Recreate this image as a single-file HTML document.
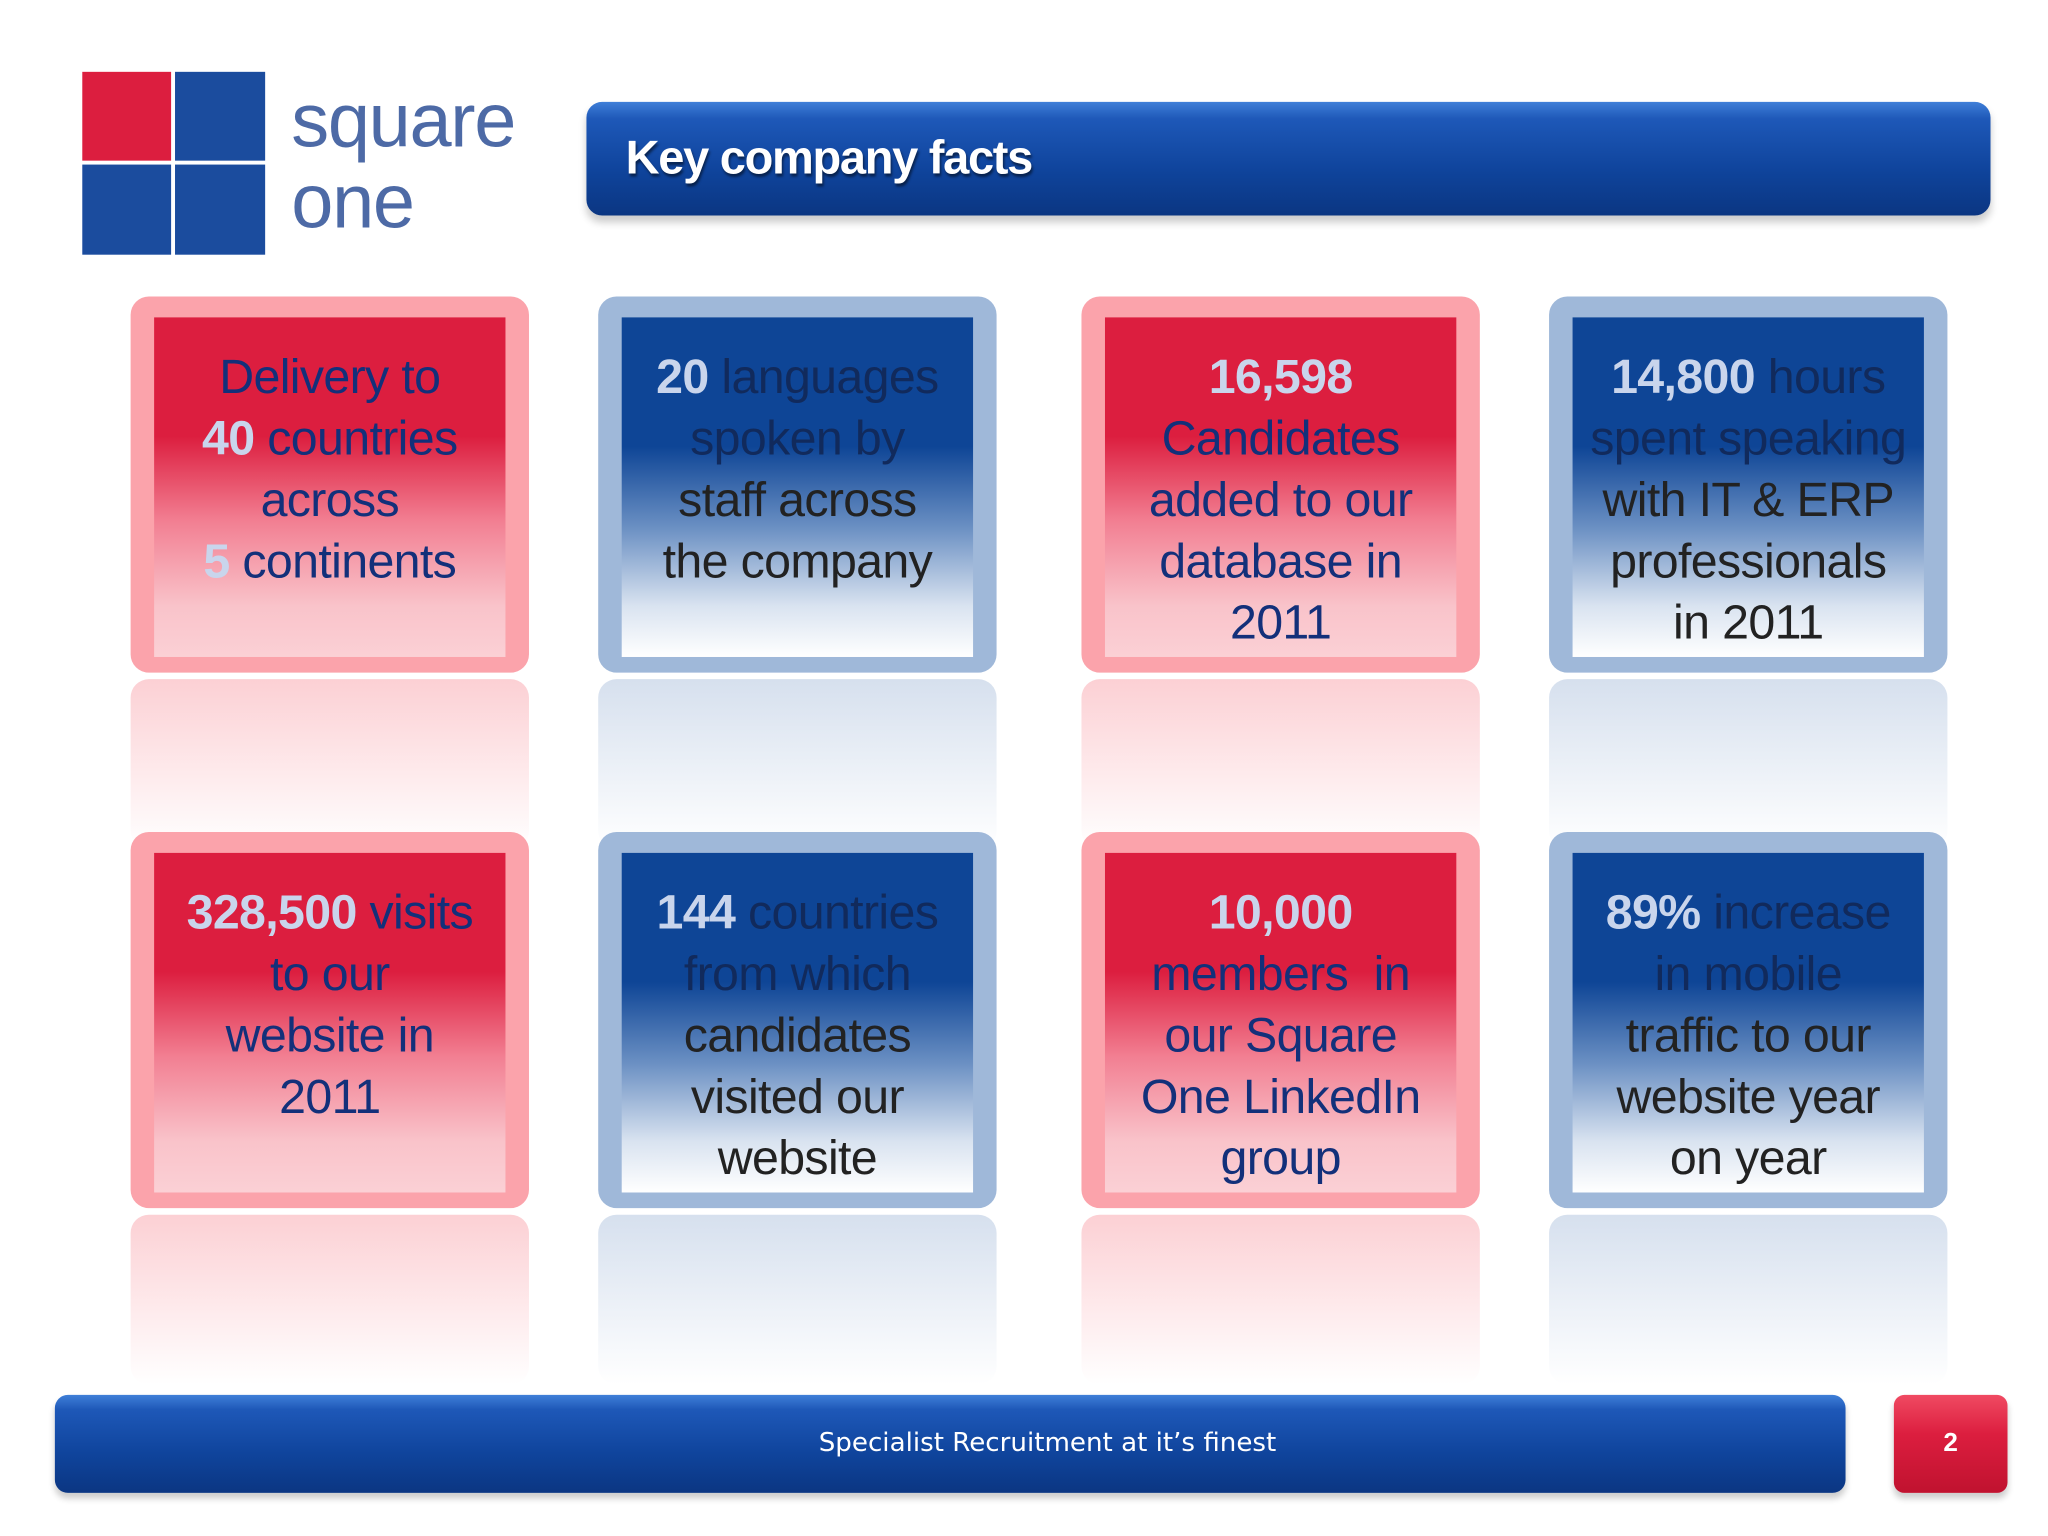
<!DOCTYPE html>
<html><head><meta charset="utf-8"><style>
html,body{margin:0;padding:0;background:#fff;}
#wrap{width:2048px;height:1536px;overflow:hidden;position:relative;}
#s{width:1568px;height:1176px;position:absolute;left:0;top:0;transform:scale(1.30612);transform-origin:0 0;font-family:"Liberation Sans",Arial,sans-serif;}
.a{position:absolute;}
.card{position:absolute;width:305px;height:288px;border-radius:14px;}
.red{background:#fba3ab;}
.blue{background:#9fb8d9;}
.inner{position:absolute;left:18px;top:16px;right:18px;bottom:12px;}
.red .inner{background:linear-gradient(#dc1e3f 0%,#dc1e3f 35%,#f27f92 60%,#f9c3ca 85%,#fbd0d5 100%);}
.blue .inner{background:linear-gradient(#0e4596 0%,#0e4596 38%,#6b90c3 62%,#d9e3f0 85%,#fff 100%);}
.txt{position:absolute;left:-4px;right:-4px;top:38px;text-align:center;font-size:37px;line-height:47px;letter-spacing:-0.5px;}
.red .txt{color:#13307a;}
.blue .txt{color:#222;}
.hl{color:#c9d5ec;font-weight:bold;}
.dk{color:#112a5c;}
.refl{position:absolute;width:305px;height:130px;border-radius:14px;}
.refl.r{background:linear-gradient(#fcd0d4,#fff 100%);}
.refl.b{background:linear-gradient(#d6e0ee,#fff 100%);}
</style></head><body>
<div id="wrap"><div id="s">
<div class="a" style="left:63px;top:55px;width:140px;height:140px;">
 <div class="a" style="left:0;top:0;width:68px;height:68px;background:#dc1e3f"></div>
 <div class="a" style="left:71px;top:0;width:69px;height:68px;background:#1b4c9e"></div>
 <div class="a" style="left:0;top:71px;width:68px;height:69px;background:#1b4c9e"></div>
 <div class="a" style="left:71px;top:71px;width:69px;height:69px;background:#1b4c9e"></div>
</div>
<div class="a" style="left:223px;top:62px;font-size:58px;line-height:62px;color:#4d6aa6;letter-spacing:-1px;">square<br>one</div>
<div class="a" style="left:449px;top:78px;width:1075px;height:87px;border-radius:12px;background:linear-gradient(#3f7fd8 0%,#1e58b8 15%,#0f449c 60%,#0b3682 100%);box-shadow:0 5px 6px rgba(0,0,0,0.2);">
 <div class="a" style="left:30px;top:22px;font-size:36px;color:#fff;font-weight:bold;letter-spacing:-1px;text-shadow:1px 2px 2px rgba(0,0,0,0.5);">Key company facts</div>
</div>

<div class="refl r" style="left:100px;top:520px"></div>
<div class="refl b" style="left:458px;top:520px"></div>
<div class="refl r" style="left:828px;top:520px"></div>
<div class="refl b" style="left:1186px;top:520px"></div>
<div class="refl r" style="left:100px;top:930px"></div>
<div class="refl b" style="left:458px;top:930px"></div>
<div class="refl r" style="left:828px;top:930px"></div>
<div class="refl b" style="left:1186px;top:930px"></div>

<div class="card red" style="left:100px;top:227px"><div class="inner"></div><div class="txt">Delivery to<br><span class="hl">40</span> countries<br>across<br><span class="hl">5</span> continents</div></div>
<div class="card blue" style="left:458px;top:227px"><div class="inner"></div><div class="txt"><span class="hl">20</span> <span class="dk">languages<br>spoken by</span><br>staff across<br>the company</div></div>
<div class="card red" style="left:828px;top:227px"><div class="inner"></div><div class="txt"><span class="hl">16,598</span><br>Candidates<br>added to our<br>database in<br>2011</div></div>
<div class="card blue" style="left:1186px;top:227px"><div class="inner"></div><div class="txt"><span class="hl">14,800</span> <span class="dk">hours<br>spent speaking</span><br>with IT &amp; ERP<br>professionals<br>in 2011</div></div>

<div class="card red" style="left:100px;top:637px"><div class="inner"></div><div class="txt"><span class="hl">328,500</span> visits<br>to our<br>website in<br>2011</div></div>
<div class="card blue" style="left:458px;top:637px"><div class="inner"></div><div class="txt"><span class="hl">144</span> <span class="dk">countries<br>from which</span><br>candidates<br>visited our<br>website</div></div>
<div class="card red" style="left:828px;top:637px"><div class="inner"></div><div class="txt"><span class="hl">10,000</span><br>members&nbsp; in<br>our Square<br>One LinkedIn<br>group</div></div>
<div class="card blue" style="left:1186px;top:637px"><div class="inner"></div><div class="txt"><span class="hl">89%</span> <span class="dk">increase<br>in mobile</span><br>traffic to our<br>website year<br>on year</div></div>

<div class="a" style="left:42px;top:1068px;width:1371px;height:75px;border-radius:10px;background:linear-gradient(#3f7fd8 0%,#1e58b8 15%,#0f449c 60%,#0b3682 100%);box-shadow:0 4px 5px rgba(0,0,0,0.2);">
 <div class="a" style="left:580px;width:360px;top:24px;text-align:center;font-size:20px;color:#fff;font-family:'DejaVu Sans',sans-serif;">Specialist Recruitment at it’s finest</div>
</div>
<div class="a" style="left:1450px;top:1068px;width:87px;height:75px;border-radius:8px;background:linear-gradient(#f04a62,#dc1e3f 40%,#c0122f);box-shadow:0 4px 5px rgba(0,0,0,0.2);color:#fff;font-weight:bold;font-size:20px;text-align:center;line-height:75px;">2</div>
</div></div>
</body></html>
